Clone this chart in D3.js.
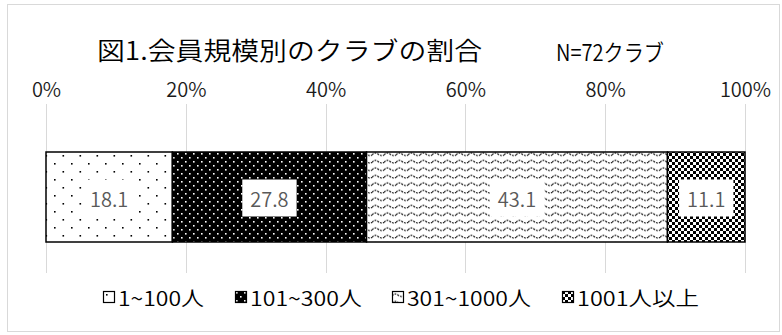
<!DOCTYPE html>
<html>
<head>
<meta charset="utf-8">
<script src="https://cdn.jsdelivr.net/npm/d3@7"></script>
<style>
  html, body { margin: 0; padding: 0; background: #fff; }
  svg { display: block; font-family: "Noto Sans CJK JP", "Noto Sans", sans-serif; }
</style>
</head>
<body>
<svg id="chart" width="782" height="335"></svg>
<script>
// Membership-size groups and their share of clubs (%)
const categories = ["1~100人", "101~300人", "301~1000人", "1001人以上"];
const values = [18.1, 27.8, 43.1, 11.1];
const patternIds = ["pDots", "pDense", "pWave", "pCheck"];
const tickValues = [0, 0.2, 0.4, 0.6, 0.8, 1.0];
const legendWidths = [86, 112, 124, 122];

const svg = d3.select("#chart");
const W = 782, H = 335;
const margin = { left: 46, right: 37 };
const barTop = 152, barBottom = 242;

// ---- fill patterns ----
const defs = svg.append("defs");
// sparse dots on white
const p1 = defs.append("pattern").attr("id", "pDots").attr("patternUnits", "userSpaceOnUse")
  .attr("width", 17).attr("height", 16);
p1.append("rect").attr("width", 17).attr("height", 16).attr("fill", "#fff");
p1.append("rect").attr("x", 3).attr("y", 3).attr("width", 1.6).attr("height", 1.6).attr("fill", "#000");
p1.append("rect").attr("x", 11.5).attr("y", 11).attr("width", 1.6).attr("height", 1.6).attr("fill", "#000");
// white dots on black
const p2 = defs.append("pattern").attr("id", "pDense").attr("patternUnits", "userSpaceOnUse")
  .attr("width", 8).attr("height", 8);
p2.append("rect").attr("width", 8).attr("height", 8).attr("fill", "#000");
p2.append("rect").attr("x", 1).attr("y", 1).attr("width", 1.6).attr("height", 1.6).attr("fill", "#fff");
p2.append("rect").attr("x", 5).attr("y", 5).attr("width", 1.6).attr("height", 1.6).attr("fill", "#fff");
// small waves
const p3 = defs.append("pattern").attr("id", "pWave").attr("patternUnits", "userSpaceOnUse")
  .attr("width", 12).attr("height", 7.5);
p3.append("rect").attr("width", 12).attr("height", 7.5).attr("fill", "#fff");
p3.append("path").attr("d", "M0,5 Q3,1.5 6,4 T12,5").attr("fill", "none")
  .attr("stroke", "#000").attr("stroke-width", 1).attr("stroke-dasharray", "2,1");
// checkerboard
const p4 = defs.append("pattern").attr("id", "pCheck").attr("patternUnits", "userSpaceOnUse")
  .attr("width", 6).attr("height", 6);
p4.append("rect").attr("width", 6).attr("height", 6).attr("fill", "#fff");
p4.append("rect").attr("width", 3).attr("height", 3).attr("fill", "#000");
p4.append("rect").attr("x", 3).attr("y", 3).attr("width", 3).attr("height", 3).attr("fill", "#000");

// ---- chart frame ----
svg.append("rect").attr("x", 7.5).attr("y", 4.5).attr("width", 772).attr("height", 327)
  .attr("fill", "#fff").attr("stroke", "#d9d9d9").attr("stroke-width", 1);

// ---- scales ----
const x = d3.scaleLinear().domain([0, 1]).range([margin.left, W - margin.right]);

// gridlines
svg.append("g").selectAll("line").data(tickValues).join("line")
  .attr("x1", d => Math.round(x(d)) + 0.5).attr("x2", d => Math.round(x(d)) + 0.5)
  .attr("y1", 104).attr("y2", 273)
  .attr("stroke", "#d9d9d9").attr("stroke-width", 1);

// top axis labels
const axis = d3.axisTop(x).tickValues(tickValues).tickFormat(d3.format(".0%")).tickSize(0).tickPadding(0);
const gAxis = svg.append("g").attr("transform", "translate(0,97)").call(axis);
gAxis.select(".domain").remove();
gAxis.selectAll("text").attr("font-size", 20).attr("fill", "#1a1a1a").attr("font-weight", 350)
  .attr("font-family", "\"Noto Sans CJK JP\", sans-serif");

// ---- stacked bar ----
const row = {};
categories.forEach((c, i) => row[c] = values[i]);
const stack = d3.stack().keys(categories).offset(d3.stackOffsetExpand);
const series = stack([row]);

const gBar = svg.append("g");
gBar.selectAll("rect").data(series).join("rect")
  .attr("x", d => x(d[0][0]))
  .attr("width", d => x(d[0][1]) - x(d[0][0]))
  .attr("y", barTop).attr("height", barBottom - barTop)
  .attr("fill", (d, i) => `url(#${patternIds[i]})`)
  .attr("stroke", "#000").attr("stroke-width", 1.5);

// value labels on white boxes
const gLab = svg.append("g");
series.forEach((s, i) => {
  const cx = (x(s[0][0]) + x(s[0][1])) / 2;
  const cy = (barTop + barBottom) / 2 + 1;
  const g = gLab.append("g");
  const t = g.append("text").attr("x", cx).attr("y", cy)
    .attr("text-anchor", "middle").attr("dominant-baseline", "central")
    .attr("font-size", 20).attr("fill", "#595959").attr("font-weight", 350)
    .text(values[i].toFixed(1));
  const bb = t.node().getBBox();
  g.insert("rect", "text")
    .attr("x", cx - bb.width / 2 - 8).attr("y", cy - 18.5)
    .attr("width", bb.width + 16).attr("height", 37).attr("fill", "#fff");
});

// ---- titles ----
svg.append("text").attr("x", 97).attr("y", 49)
  .attr("dominant-baseline", "central").attr("font-size", 25).attr("fill", "#000")
  .attr("font-weight", 350)
  .attr("textLength", 385).attr("lengthAdjust", "spacingAndGlyphs")
  .text("図1.会員規模別のクラブの割合");
svg.append("text").attr("x", 556).attr("y", 51)
  .attr("dominant-baseline", "central").attr("font-size", 23).attr("fill", "#000")
  .attr("font-weight", 350)
  .attr("textLength", 108).attr("lengthAdjust", "spacingAndGlyphs")
  .text("N=72クラブ");

// ---- legend ----
const legendX = [103, 235, 392, 562];
const gLeg = svg.append("g");
categories.forEach((c, i) => {
  const g = gLeg.append("g").attr("transform", `translate(${legendX[i]},291)`);
  g.append("rect").attr("x", 0.5).attr("y", 0.5).attr("width", 11).attr("height", 11)
    .attr("fill", `url(#${patternIds[i]})`).attr("stroke", "#000").attr("stroke-width", 1.2);
  g.append("text").attr("x", 15).attr("y", 6.5).attr("dominant-baseline", "central")
    .attr("font-size", 20).attr("fill", "#000").attr("font-weight", 350)
    .attr("textLength", legendWidths[i]).attr("lengthAdjust", "spacingAndGlyphs")
    .text(c);
});
</script>
</body>
</html>
